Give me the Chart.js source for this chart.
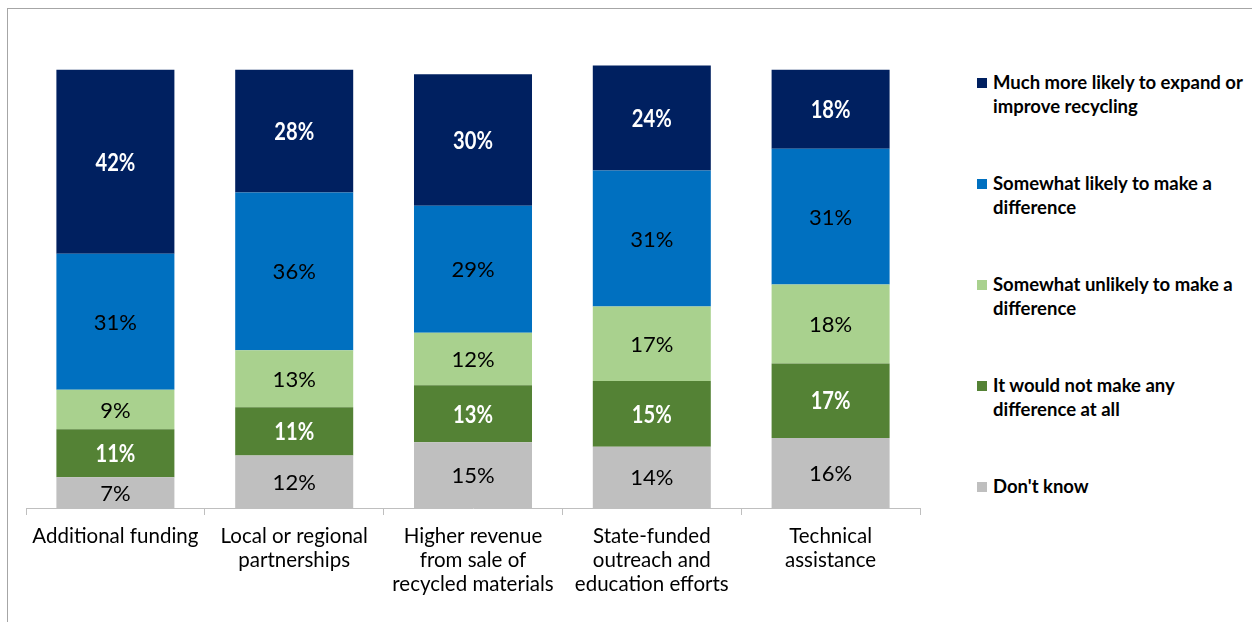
<!DOCTYPE html>
<html>
<head>
<meta charset="utf-8">
<script src="https://cdn.jsdelivr.net/npm/chart.js@4/dist/chart.umd.min.js"></script>
<style>
    html, body { margin: 0; padding: 0; background: #fff; }
    body { width: 1252px; height: 622px; position: relative; overflow: hidden; }
    #frame {
        position: absolute; left: 7px; top: 8px; width: 1300px; height: 700px;
        border: 1px solid #a6a6a6; box-sizing: border-box;
    }
    #wrap { position: absolute; left: 0; top: 0; width: 940px; height: 622px; }
    #legend {
        position: absolute; left: 977px; top: 70px;
        font-family: Lato, "Open Sans", sans-serif; font-weight: bold;
        font-size: 18.5px; color: #000;
    }
    .item { position: absolute; left: 0; white-space: nowrap; line-height: 24px; }
    .item .box { position: absolute; left: 0; top: 8px; width: 10px; height: 10px; }
    .item .txt { position: absolute; left: 16px; top: 0; }
</style>
</head>
<body>
<div id="frame"></div>
<div id="wrap"><canvas id="surveyChart"></canvas></div>
<div id="legend"></div>
<script>
// 카테고리 / 시리즈 데이터
const categories = [
    'Additional funding',
    ['Local or regional', 'partnerships'],
    ['Higher revenue', 'from sale of', 'recycled materials'],
    ['State-funded', 'outreach and', 'education efforts'],
    ['Technical', 'assistance']
];
const dontKnow = [7, 12, 15, 14, 16];
const noDifference = [11, 11, 13, 15, 17];
const somewhatUnlikely = [9, 13, 12, 17, 18];
const somewhatLikely = [31, 36, 29, 31, 31];
const muchMoreLikely = [42, 28, 30, 24, 18];

const seriesNames = [
    "Don't know",
    ['It would not make any', 'difference at all'],
    ['Somewhat unlikely to make a', 'difference'],
    ['Somewhat likely to make a', 'difference'],
    ['Much more likely to expand or', 'improve recycling']
];
const seriesColors = ['#bfbfbf', '#548235', '#a9d18e', '#0070c0', '#002060'];
const labelColors = ['#000', '#fff', '#000', '#000', '#fff'];

const datasets = [dontKnow, noDifference, somewhatUnlikely, somewhatLikely, muchMoreLikely]
    .map((values, i) => ({
        label: [].concat(seriesNames[i]).join(' '),
        data: values,
        backgroundColor: seriesColors[i],
        borderWidth: 0,
        barPercentage: 0.66,
        categoryPercentage: 1
    }));

// 막대 안에 % 라벨 그리기 (흰 글씨는 굵고 좁게)
const valueLabels = {
    id: 'valueLabels',
    afterDatasetsDraw(chart) {
        const ctx = chart.ctx;
        chart.data.datasets.forEach((ds, i) => {
            const meta = chart.getDatasetMeta(i);
            const white = labelColors[i] === '#fff';
            meta.data.forEach((bar, j) => {
                const y = (bar.y + bar.base) / 2 + 1;
                ctx.save();
                ctx.textAlign = 'center';
                ctx.textBaseline = 'middle';
                ctx.fillStyle = labelColors[i];
                ctx.translate(bar.x, y);
                if (white) {
                    ctx.scale(0.84, 1);
                    ctx.font = 'bold 24px Lato, "Open Sans", sans-serif';
                } else {
                    ctx.font = '22px Lato, "Open Sans", sans-serif';
                }
                ctx.fillText(ds.data[j] + '%', 0, 0);
                ctx.restore();
            });
        });
    }
};

const ctx = document.getElementById('surveyChart').getContext('2d');
new Chart(ctx, {
    type: 'bar',
    data: { labels: categories, datasets: datasets },
    plugins: [valueLabels],
    options: {
        responsive: true,
        maintainAspectRatio: false,
        animation: false,
        layout: { padding: { left: 26, right: 20, top: 26, bottom: 0 } },
        plugins: {
            legend: { display: false },
            tooltip: { enabled: false }
        },
        scales: {
            x: {
                stacked: true,
                grid: {
                    offset: true,
                    drawOnChartArea: false,
                    drawTicks: true,
                    tickLength: 7,
                    color: '#bfbfbf'
                },
                border: { display: true, color: '#bfbfbf' },
                ticks: {
                    color: '#000',
                    padding: 9,
                    maxRotation: 0,
                    autoSkip: false,
                    font: { family: 'Lato, "Open Sans", sans-serif', size: 20.5, lineHeight: 1.17 }
                },
                afterFit(axis) { axis.height = 114; }
            },
            y: {
                stacked: true,
                display: false,
                min: 0,
                max: 110
            }
        }
    }
});

// 오른쪽 범례 (위에서부터 역순)
const legend = document.getElementById('legend');
for (let i = seriesNames.length - 1, k = 0; i >= 0; i--, k++) {
    const item = document.createElement('div');
    item.className = 'item';
    item.style.top = (k * 101) + 'px';
    const box = document.createElement('span');
    box.className = 'box';
    box.style.background = seriesColors[i];
    const txt = document.createElement('span');
    txt.className = 'txt';
    txt.innerHTML = [].concat(seriesNames[i]).join('<br>');
    item.appendChild(box);
    item.appendChild(txt);
    legend.appendChild(item);
}
</script>
</body>
</html>
